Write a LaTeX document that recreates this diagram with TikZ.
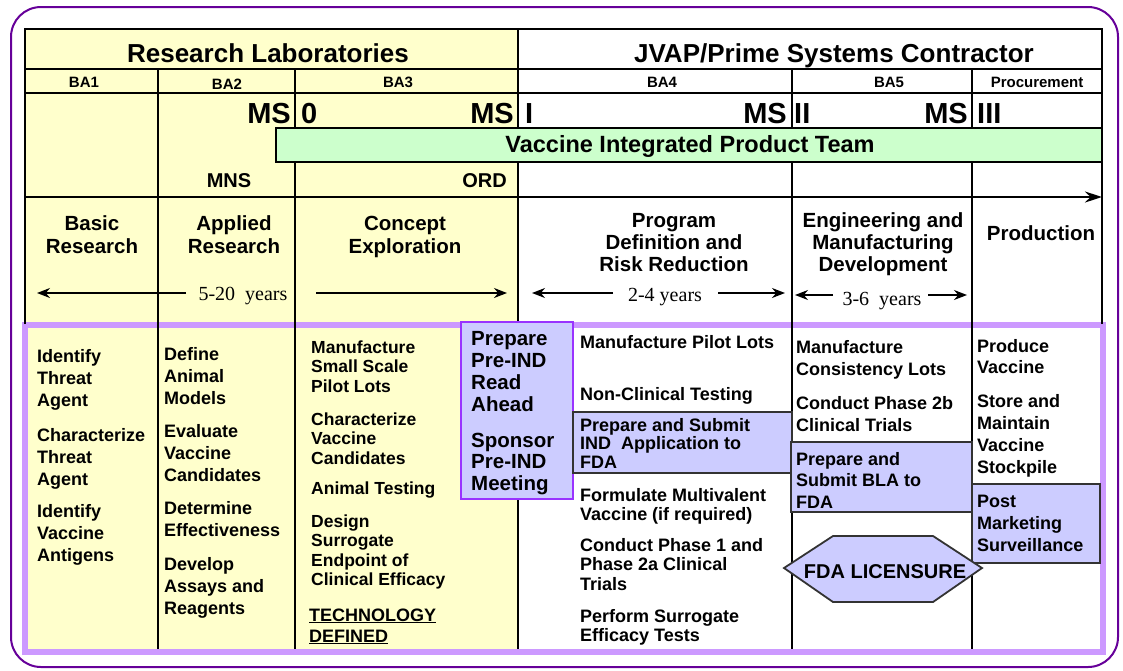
\documentclass[tikz,border=0pt]{standalone}
\usepackage{fontspec}
\setmainfont{Liberation Sans}
\newfontfamily\yrfont{Liberation Serif}
\usetikzlibrary{arrows.meta}
\definecolor{ylw}{HTML}{FFFFCC}
\definecolor{grn}{HTML}{CCFFCC}
\definecolor{lav}{HTML}{CCCCFF}
\definecolor{lavb}{HTML}{CC99FF}
\definecolor{vio}{HTML}{9933FF}
\definecolor{outerp}{HTML}{660099}
\newcommand\myfs[2]{\fontsize{#1}{#2}\selectfont}
\begin{document}
\begin{tikzpicture}[x=1pt,y=-1pt,
  body/.style={font=\bfseries\myfs{18}{22}, align=left, inner sep=0pt, anchor=base west},
  bodyc/.style={font=\bfseries\myfs{17.5}{19.5}, align=left, inner sep=0pt, anchor=base west},
  bodyp/.style={font=\bfseries\myfs{20.5}{22}, align=left, inner sep=0pt, anchor=base west},
  phase/.style={font=\bfseries\myfs{20.5}{23}, align=center, inner sep=0pt, anchor=base},
  hdr/.style={font=\bfseries\myfs{26}{30}, inner sep=0pt, anchor=base},
  ba/.style={font=\bfseries\myfs{15}{18}, inner sep=0pt, anchor=base},
  ms/.style={font=\bfseries\myfs{29}{32}, inner sep=0pt},
  mid/.style={font=\bfseries\myfs{20}{24}, inner sep=0pt},
  yr/.style={font=\yrfont\myfs{20}{24}, inner sep=0pt, anchor=base},
  grid/.style={line width=2pt, black},
  yarrow/.style={line width=1.6pt, -{Stealth[length=13pt,width=10pt]}},
  hl/.style={fill=lav, draw=black!80, line width=2pt}
]
\useasboundingbox (0,0) rectangle (1123,670);
% outer frame
\draw[outerp, line width=2pt, rounded corners=30pt] (11,7) rectangle (1118,667);
% fills
\fill[ylw] (25,29) rectangle (518,652);
\fill[grn] (276,128) rectangle (1102,162);
% lavender frame
\draw[lavb, line width=6pt] (24.5,324.5) rectangle (1102.5,652);
% table grid
\draw[grid, line width=2.5pt] (25,324) -- (25,29) -- (1102,29) -- (1102,324);
\draw[grid] (25,69) -- (1102,69);
\draw[grid] (25,93) -- (1102,93);
\draw[grid, -{Stealth[length=17pt,width=11pt]}] (25,197) -- (1102,197);
\draw[grid] (518,29) -- (518,649);
\foreach \xx in {158,295,792,972} \draw[grid] (\xx,69) -- (\xx,649);
% green bar
\draw[fill=grn, line width=1.5pt] (276,128) rectangle (1102,162);
\node[font=\bfseries\myfs{23.5}{26}, inner sep=0pt, anchor=base] (vipt) at (690,152) {Vaccine Integrated Product Team};
% headers
\node[hdr] (rl) at (268,62) {Research Laboratories};
\node[hdr] (jv) at (834,62) {JVAP/Prime Systems Contractor};
\node[ba] (ba1) at (84,87) {BA1};
\node[ba] (ba2) at (227,89) {BA2};
\node[ba] (ba3) at (398,87) {BA3};
\node[ba] (ba4) at (662,87) {BA4};
\node[ba] (ba5) at (889,87) {BA5};
\node[ba] (proc) at (1037,87) {Procurement};
% milestones
\node[ms, anchor=base east] (ms0a) at (291,123) {MS};
\node[ms, anchor=base west] (ms0b) at (301,123) {0};
\node[ms, anchor=base east] (ms1a) at (514,123) {MS};
\node[ms, anchor=base west] (ms1b) at (525,123) {I};
\node[ms, anchor=base east] (ms2a) at (787,123) {MS};
\node[ms, anchor=base west] (ms2b) at (794,123) {II};
\node[ms, anchor=base east] (ms3a) at (968,123) {MS};
\node[ms, anchor=base west] (ms3b) at (977,123) {III};
\node[mid, anchor=base] (mns) at (229,187) {MNS};
\node[mid, anchor=base east] (ord) at (507,187) {ORD};
% phases (anchor = baseline of last line)
\node[phase] (ph1) at (92,253) {Basic\\Research};
\node[phase] (ph2) at (234,253) {Applied\\Research};
\node[phase] (ph3) at (405,253) {Concept\\Exploration};
\node[phase, font=\bfseries\myfs{20.5}{22}] (ph4) at (674,271) {Program\\Definition and\\Risk Reduction};
\node[phase, font=\bfseries\myfs{20.5}{22}] (ph5) at (883,271) {Engineering and\\Manufacturing\\Development};
\node[phase] (ph6) at (1041,240) {Production};
% years
\node[yr] (y1) at (243,300) {5-20\ \ years};
\draw[yarrow] (186,293) -- (37,293);
\draw[yarrow] (316,293) -- (507,293);
\node[yr] (y2) at (665,301) {2-4 years};
\draw[yarrow] (613,293) -- (532,293);
\draw[yarrow] (718,293) -- (785,293);
\node[yr] (y3) at (882,305) {3-6\ \ years};
\draw[yarrow] (833,295) -- (795,295);
\draw[yarrow] (928,295) -- (967,295);
% highlight boxes
\draw[fill=lav, draw=vio, line width=2pt] (461,322) rectangle (573,499);
\draw[hl] (573,412) rectangle (792,473);
\draw[hl] (791,442) rectangle (972,512);
\draw[hl] (972,484) rectangle (1100,563);
\draw[hl, line width=1.8pt] (784,568) -- (833,536) -- (933,536) -- (982,568) -- (933,602) -- (833,602) -- cycle;
\node[font=\bfseries\myfs{20}{22}, inner sep=0pt, anchor=base] (fda) at (885,578) {FDA LICENSURE};
% BA1 column (anchor = baseline of last line)
\node[body] (a1) at (37,406) {Identify\\Threat\\Agent};
\node[body] (a2) at (37,485) {Characterize\\Threat\\Agent};
\node[body] (a3) at (37,561) {Identify\\Vaccine\\Antigens};
% BA2 column
\node[body] (b1) at (164,404) {Define\\Animal\\Models};
\node[body] (b2) at (164,481) {Evaluate\\Vaccine\\Candidates};
\node[body] (b3) at (164,536) {Determine\\Effectiveness};
\node[body] (b4) at (164,614) {Develop\\Assays and\\Reagents};
% BA3 column
\node[bodyc] (c1) at (311,392) {Manufacture\\Small Scale\\Pilot Lots};
\node[bodyc] (c2) at (311,464) {Characterize\\Vaccine\\Candidates};
\node[bodyc] (c3) at (311,494) {Animal Testing};
\node[bodyc] (c4) at (311,585.5) {Design\\Surrogate\\Endpoint of\\Clinical Efficacy};
\node[body, font=\bfseries\myfs{18}{21}] (c5) at (309,642) {\underline{TECHNOLOGY}\\\underline{DEFINED}};
% Pre-IND box
\node[bodyp] (p1) at (471,411) {Prepare\\Pre-IND\\Read\\Ahead};
\node[bodyp, font=\bfseries\myfs{20.5}{21.5}] (p2) at (471,490) {Sponsor\\Pre-IND\\Meeting};
% BA4 column
\node[body] (d1) at (580,348) {Manufacture Pilot Lots};
\node[body] (d2) at (580,400) {Non-Clinical Testing};
\node[body, font=\bfseries\myfs{18}{18.5}] (d3) at (580,468) {Prepare and Submit\\IND\ \ Application to\\FDA};
\node[body, font=\bfseries\myfs{18}{19}] (d4) at (580,520) {Formulate Multivalent\\Vaccine (if required)};
\node[body, font=\bfseries\myfs{18}{19.5}] (d5) at (580,590) {Conduct Phase 1 and\\Phase 2a Clinical\\Trials};
\node[body, font=\bfseries\myfs{18}{19}] (d6) at (580,641) {Perform Surrogate\\Efficacy Tests};
% BA5 column
\node[body] (e1) at (796,375) {Manufacture\\Consistency Lots};
\node[body] (e2) at (796,431) {Conduct Phase 2b\\Clinical Trials};
\node[body, font=\bfseries\myfs{18}{21.5}] (e3) at (796,508) {Prepare and\\Submit BLA to\\FDA};
% Procurement column
\node[body, font=\bfseries\myfs{18}{21}] (f1) at (977,373) {Produce\\Vaccine};
\node[body] (f2) at (977,473) {Store and\\Maintain\\Vaccine\\Stockpile};
\node[body] (f3) at (977,551) {Post\\Marketing\\Surveillance};
\end{tikzpicture}
\end{document}
